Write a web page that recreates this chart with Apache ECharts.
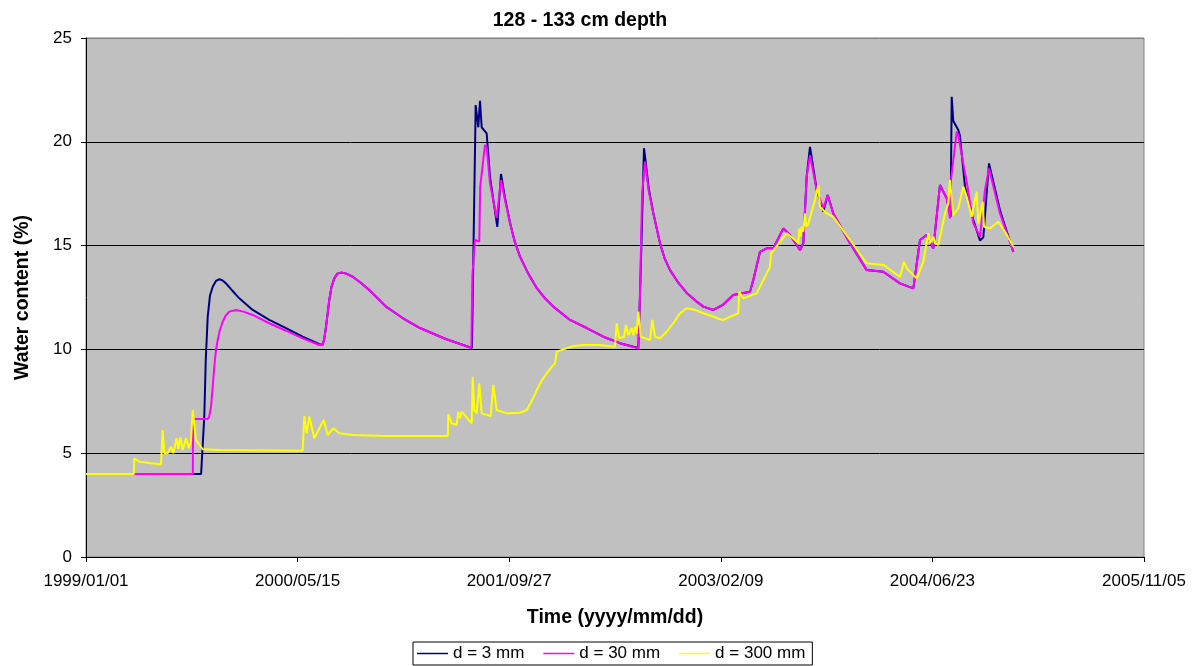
<!DOCTYPE html>
<html>
<head>
<meta charset="utf-8">
<script src="https://cdn.jsdelivr.net/npm/echarts@6/dist/echarts.min.js"></script>
<style>
  html, body { margin: 0; padding: 0; background: #fff; }
  #chart { width: 1200px; height: 666px; }
</style>
</head>
<body>
<div id="chart"></div>
<script>
// x = days since 1999/01/01, y = water content (%)
const seriesNames = ['d = 3 mm', 'd = 30 mm', 'd = 300 mm']

const d3 = [
  [0, 4.0], [272, 4.0], [279.5, 6.76], [283, 9.5], [287.6, 11.57], [293, 12.6], [299.4, 13.02],
  [307, 13.3], [315, 13.38], [322, 13.33], [330.8, 13.18], [345, 12.85], [362.2, 12.46], [393.9, 11.9],
  [433.1, 11.42], [472.6, 11.02], [512, 10.61], [551.3, 10.25], [559.3, 10.22], [563, 10.5],
  [567.1, 11.09], [574.9, 12.38], [580, 13.0], [586.7, 13.42], [594, 13.65], [602.6, 13.7],
  [615, 13.65], [630.2, 13.5], [650, 13.2], [669.4, 12.86], [708.9, 12.06], [749.1, 11.5],
  [789.2, 11.03], [850, 10.5], [912, 10.07],
  [920.8, 21.77], [927, 20.7], [931, 21.98], [935, 20.7], [946.8, 20.4], [954.6, 18.3],
  [971.9, 15.9], [980.6, 18.45], [990, 17.3], [1001.9, 16.1], [1013, 15.2], [1025.5, 14.47],
  [1045, 13.65], [1065, 12.96], [1085, 12.45], [1104.2, 12.06], [1143.7, 11.42], [1183.1, 11.03],
  [1222.4, 10.61], [1261.8, 10.3], [1305.1, 10.07], [1308, 10.05],
  [1311, 14.0], [1318.5, 19.69], [1321, 19.3], [1330, 17.7], [1340.5, 16.57], [1356.3, 15.12],
  [1367, 14.4], [1380, 13.82], [1400, 13.2], [1419.4, 12.72], [1440, 12.35], [1458.7, 12.06],
  [1482.3, 11.9], [1505, 12.15], [1529.5, 12.62], [1569, 12.78], [1576.8, 13.34],
  [1592.6, 14.7], [1608.4, 14.87], [1624.1, 14.87], [1647.7, 15.83], [1663.5, 15.51], [1687.1, 14.79],
  [1695, 15.11], [1702.9, 18.32], [1710.8, 19.76], [1726.6, 17.68], [1742.2, 16.63], [1752.6, 17.44],
  [1765.8, 16.55], [1805.3, 15.11], [1844.8, 13.82], [1883.9, 13.74], [1923.4, 13.18], [1954.9, 12.94],
  [1970.7, 15.27], [1986.5, 15.51], [2002.1, 14.87], [2017.9, 17.92], [2033.8, 17.28], [2043, 16.39],
  [2045.6, 22.17], [2049.4, 21.0], [2061.2, 20.57], [2065, 20.3], [2077, 17.84], [2096.7, 16.23],
  [2112.5, 15.25], [2120.3, 15.4], [2133.7, 18.96], [2159.7, 16.7], [2191.2, 14.7]
]

const d30 = [
  [0, 4.0], [252.5, 4.0], [253, 6.65], [287.6, 6.65], [291, 6.75], [295.4, 7.24], [299, 8.1],
  [303.2, 9.17], [307, 9.95], [311.2, 10.45], [316, 10.9], [323, 11.33], [330, 11.62], [338.6, 11.82],
  [354.4, 11.9], [372, 11.82], [393.9, 11.66], [433.1, 11.26], [472.6, 10.9], [512, 10.53],
  [551.3, 10.21], [559.3, 10.22], [563, 10.5], [567.1, 11.09], [574.9, 12.38], [580, 13.0],
  [586.7, 13.42], [594, 13.65], [602.6, 13.7], [615, 13.65], [630.2, 13.5], [650, 13.2],
  [669.4, 12.86], [708.9, 12.06], [749.1, 11.5], [789.2, 11.03],
  [850, 10.5], [910.6, 10.07], [913, 13.58], [919.2, 15.27], [929.3, 15.2], [931.5, 17.84],
  [942.8, 19.85], [946.8, 19.75], [954.6, 18.0], [970.4, 16.33], [980.6, 18.16], [990, 17.2],
  [1001.9, 16.1], [1013, 15.2], [1025.5, 14.47], [1045, 13.65], [1065, 12.96], [1085, 12.45],
  [1104.2, 12.06], [1143.7, 11.42], [1183.1, 11.03], [1222.4, 10.61],
  [1261.8, 10.3], [1305.1, 10.05], [1309, 12.5], [1314, 17.5], [1320.9, 19.04], [1330, 17.6],
  [1340.5, 16.57], [1356.3, 15.12], [1367, 14.4], [1380, 13.82], [1400, 13.2], [1419.4, 12.72],
  [1440, 12.35], [1458.7, 12.06], [1482.3, 11.9], [1505, 12.15], [1529.5, 12.62],
  [1569, 12.78], [1576.8, 13.34], [1592.6, 14.7], [1608.4, 14.87], [1624.1, 14.87], [1647.7, 15.83],
  [1663.5, 15.51], [1687.1, 14.79], [1695, 15.11], [1702.9, 18.32], [1710.8, 19.36], [1726.6, 17.68],
  [1742.2, 16.8], [1752.6, 17.44], [1765.8, 16.55], [1805.3, 15.11], [1844.8, 13.82], [1883.9, 13.74],
  [1923.4, 13.18], [1954.9, 12.94], [1970.7, 15.27], [1986.5, 15.51], [2002.1, 14.87], [2017.9, 17.92],
  [2033.8, 17.28], [2041.5, 16.31], [2043.9, 18.16], [2057.4, 20.49], [2061.2, 20.3], [2083, 17.84],
  [2096.7, 16.07], [2112.5, 15.43], [2124.3, 17.68], [2133.7, 18.72], [2159.7, 16.55], [2191.2, 14.7]
]

const d300 = [
  [0, 4.0], [113, 4.0], [114, 4.75], [125.9, 4.59], [177.2, 4.46], [181.2, 6.12], [185, 5.0],
  [193.1, 5.0], [200.8, 5.31], [206.3, 5.0], [214.3, 5.72], [218.6, 5.2], [222.8, 5.76], [228.5, 5.15],
  [236.3, 5.72], [242.7, 5.24], [248.1, 5.56], [252.1, 7.08], [259.9, 5.64], [275.8, 5.19],
  [315, 5.15], [512, 5.12], [515.8, 6.79], [521.5, 5.96], [527.6, 6.76], [539.5, 5.72], [561.7, 6.6],
  [571.1, 5.88], [584.3, 6.2], [598.5, 5.96], [630.2, 5.88], [708.9, 5.83], [855, 5.83], [856, 6.87],
  [864.1, 6.44], [875.9, 6.36], [879.7, 7.0], [883.7, 6.68], [887.7, 7.0], [911.4, 6.44], [913.7, 8.68],
  [917.5, 7.08], [923.2, 6.92], [929.3, 8.37], [935, 6.92], [956.3, 6.79], [962.4, 8.29], [970.4, 7.08],
  [994.1, 6.92], [1025.5, 6.95], [1041.3, 7.08], [1053, 7.5], [1065, 8.04], [1077, 8.5], [1088.6, 8.85],
  [1100, 9.15], [1108.2, 9.33], [1112.2, 9.89], [1127.8, 10.0], [1150, 10.15], [1175.1, 10.21],
  [1214.5, 10.21], [1250, 10.13], [1254, 11.26],
  [1260.1, 10.53], [1271.2, 10.61], [1276, 11.18], [1281.4, 10.69], [1289.4, 11.02], [1293.2, 10.69],
  [1297.2, 11.09], [1301.3, 10.77], [1305, 11.82], [1307.4, 11.9], [1310.7, 10.61], [1332.7, 10.45],
  [1338.1, 11.42], [1344.5, 10.61], [1356.3, 10.53], [1372, 10.85], [1387.7, 11.26], [1402, 11.7],
  [1419.4, 11.98], [1440, 11.9], [1458.6, 11.74], [1480, 11.6],
  [1498.1, 11.45], [1505.9, 11.42], [1541.3, 11.74], [1543.7, 12.78], [1553.1, 12.46], [1584.8, 12.7],
  [1616.2, 13.98], [1618.6, 14.63], [1655.7, 15.59], [1671.3, 15.35], [1683.1, 15.11], [1685.5, 15.83],
  [1688.8, 15.43], [1691.1, 15.91], [1694.9, 15.67], [1698.9, 16.55], [1701.3, 15.91], [1706.7, 16.07],
  [1722.6, 17.2], [1730.4, 17.92], [1734.4, 16.87], [1750.2, 16.55], [1765.8, 16.39], [1805.3, 15.27],
  [1844.7, 14.15], [1883.9, 14.07], [1923.4, 13.5], [1932.9, 14.22], [1939.2, 13.91], [1962.9, 13.42],
  [1978.5, 14.22], [1990.3, 15.59], [1994.3, 15.11], [2002.1, 15.43], [2006.1, 15.11], [2013.9, 15.03],
  [2029.7, 16.55], [2037.5, 17.04], [2041.5, 18.16], [2049.3, 16.47], [2061.2, 16.8], [2073, 17.84],
  [2081, 17.36], [2092.8, 16.39], [2104.6, 17.6], [2108.4, 16.07], [2118.8, 17.11], [2121.9, 15.91],
  [2136.1, 15.83], [2155.7, 16.15], [2171.5, 15.67], [2191.1, 14.95]
]

const lineColors = ['#000080', '#ff00ff', '#ffff00']
const startDate = Date.UTC(1999, 0, 1)

function dayLabel(v) {
  const d = new Date(startDate + v * 86400000)
  const mm = ('0' + (d.getUTCMonth() + 1)).slice(-2)
  const dd = ('0' + d.getUTCDate()).slice(-2)
  return d.getUTCFullYear() + '/' + mm + '/' + dd
}

const font = 'Liberation Sans, Arial, sans-serif'
const chart = echarts.init(document.getElementById('chart'))

const option = {
  animation: false,
  backgroundColor: '#ffffff',
  title: {
    text: '128 - 133 cm depth',
    left: 575,
    textAlign: 'center',
    top: 6,
    textStyle: { fontFamily: font, fontSize: 19.5, fontWeight: 'bold', color: '#000' }
  },
  grid: {
    left: 86, right: 56, top: 38, bottom: 109,
    show: true, backgroundColor: '#c0c0c0', borderWidth: 1, borderColor: '#808080'
  },
  legend: {
    top: 642,
    left: 413,
    data: seriesNames,
    icon: 'rect',
    itemWidth: 31,
    itemHeight: 1.5,
    itemGap: 19,
    padding: [3, 7, 3, 4],
    borderColor: '#000',
    borderWidth: 1,
    borderRadius: 0,
    backgroundColor: '#fff',
    textStyle: { fontFamily: font, fontSize: 17, color: '#000' }
  },
  xAxis: {
    type: 'value',
    min: 0, max: 2500, interval: 500,
    name: 'Time (yyyy/mm/dd)',
    nameLocation: 'middle',
    nameGap: 51,
    nameTextStyle: { fontFamily: font, fontSize: 19.5, fontWeight: 'bold', color: '#000' },
    axisLine: { show: true, lineStyle: { color: '#000', width: 1 } },
    axisTick: { show: true, length: 5, lineStyle: { color: '#000' } },
    axisLabel: { formatter: dayLabel, margin: 16, fontFamily: font, fontSize: 17, color: '#000' },
    splitLine: { show: false }
  },
  yAxis: {
    type: 'value',
    min: 0, max: 25, interval: 5,
    name: 'Water content (%)',
    nameLocation: 'middle',
    nameGap: 53,
    nameTextStyle: { fontFamily: font, fontSize: 19.5, fontWeight: 'bold', color: '#000' },
    axisLine: { show: true, lineStyle: { color: '#000', width: 1 } },
    axisTick: { show: true, length: 5, lineStyle: { color: '#000' } },
    axisLabel: { margin: 14, fontFamily: font, fontSize: 17, color: '#000' },
    splitLine: { show: true, lineStyle: { color: ['#000', '#000', '#000', '#000', '#000', '#808080'], width: 1 } }
  },
  series: [d3, d30, d300].map(function (data, i) {
    return {
      name: seriesNames[i],
      type: 'line',
      symbol: 'none',
      data: data,
      color: lineColors[i],
      lineStyle: { width: 2, color: lineColors[i] },
      z: 2 + i
    }
  })
}

chart.setOption(option)
</script>
</body>
</html>
